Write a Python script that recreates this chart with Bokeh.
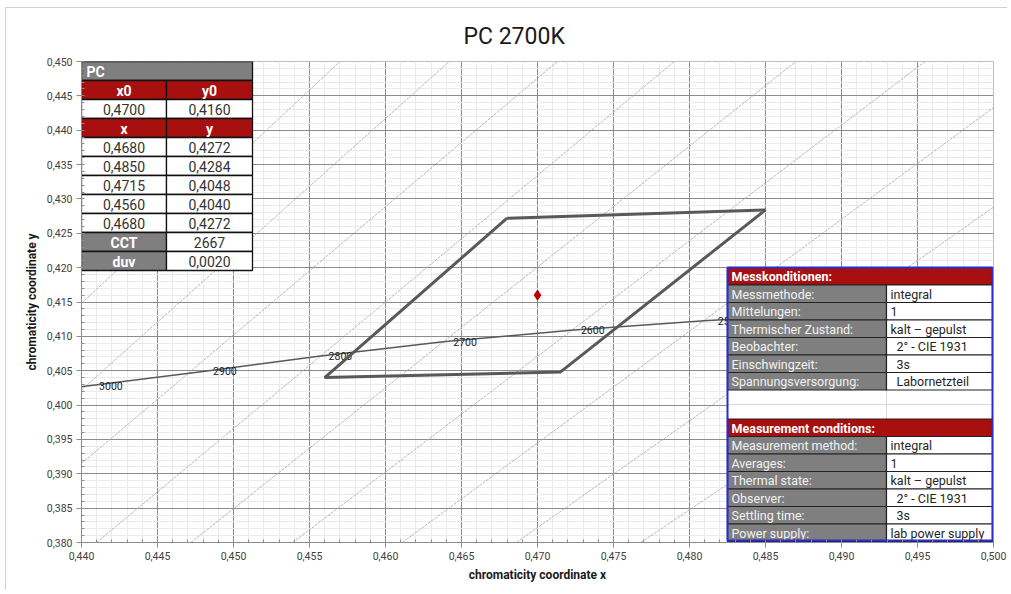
from bokeh.plotting import figure
from bokeh.models import Range1d, SingleIntervalTicker, CustomJSTickFormatter
from bokeh.core.properties import value
from bokeh.embed import file_html
from bokeh.resources import INLINE

# ---------------- data ----------------
title_text = "PC 2700K"
x_label = "chromaticity coordinate x"
y_label = "chromaticity coordinate y"

pc_name = "PC"
pc_x0 = 0.4700
pc_y0 = 0.4160
corner_x = [0.4680, 0.4850, 0.4715, 0.4560, 0.4680]
corner_y = [0.4272, 0.4284, 0.4048, 0.4040, 0.4272]
pc_cct = 2667
pc_duv = 0.0020

# Planckian locus
locus_cct = [3100, 3000, 2900, 2800, 2700, 2600, 2500, 2400]
locus_x = [0.4327, 0.4405, 0.4480, 0.4556, 0.4638, 0.4722, 0.4812, 0.4899]
locus_y = [0.4006, 0.4028, 0.4049, 0.4071, 0.4092, 0.4109, 0.4123, 0.4133]

# isotemperature lines (end points)
iso_cct = [3100, 3000, 2900, 2800, 2700, 2600, 2500, 2400, 2300, 2200]
iso_x1 = [0.4400, 0.4400, 0.4400, 0.4410, 0.4472, 0.4539, 0.4611, 0.4686, 0.4768, 0.4855]
iso_y1 = [0.4148, 0.4022, 0.3915, 0.3800, 0.3800, 0.3800, 0.3800, 0.3800, 0.3800, 0.3800]
iso_x2 = [0.4570, 0.4642, 0.4713, 0.4790, 0.4870, 0.4955, 0.5000, 0.5000, 0.5000, 0.5000]
iso_y2 = [0.4500, 0.4500, 0.4500, 0.4500, 0.4500, 0.4500, 0.4433, 0.4288, 0.4145, 0.4006]

de_title = "Messkonditionen:"
de_labels = ["Messmethode:", "Mittelungen:", "Thermischer Zustand:", "Beobachter:",
             "Einschwingzeit:", "Spannungsversorgung:"]
de_values = ["integral", "1", "kalt \u2013 gepulst", "2\u00b0 - CIE 1931", "3s", "Labornetzteil"]
de_indent = [0, 0, 0, 1, 1, 1]

en_title = "Measurement conditions:"
en_labels = ["Measurement method:", "Averages:", "Thermal state:", "Observer:",
             "Settling time:", "Power supply:"]
en_values = ["integral", "1", "kalt \u2013 gepulst", "2\u00b0 - CIE 1931", "3s", "lab power supply"]
en_indent = [0, 0, 0, 1, 1, 0]

# ---------------- layout geometry (page pixels) ----------------
FL, FR, FT, FB = 81, 993, 61, 542
X0, X1, Y0, Y1 = 0.44, 0.50, 0.38, 0.45
ML, MT = 5, 7          # css margin of the chart box
CL, CT = ML + 1, MT + 1  # content origin (after 1px border)
W, H = 1002, 583


def X(px):
    return X0 + (px - FL) * (X1 - X0) / (FR - FL)


def Y(py):
    return Y1 - (py - FT) * (Y1 - Y0) / (FB - FT)


def fmt(v, n=4):
    return f"{v:.{n}f}".replace(".", ",")


FONT = value("Roboto")
RED = "#a80f0f"
GRAY = "#7f7f7f"

p = figure(width=W, height=H, output_backend="svg", toolbar_location=None,
           x_range=Range1d(X0, X1), y_range=Range1d(Y0, Y1),
           min_border_left=FL - CL, min_border_right=(CL + W) - FR,
           min_border_top=FT - CT, min_border_bottom=(CT + H) - FB,
           background_fill_color="white", border_fill_color="white")
p.styles = {"margin-left": f"{ML}px", "margin-top": f"{MT}px",
            "border-left": "1px solid #d0d0d0", "border-top": "1px solid #d0d0d0"}

p.title.text = title_text
p.title.align = "left"
p.title.offset = 382
p.title.text_font = "Roboto"
p.title.text_font_size = "23px"
p.title.text_font_style = "normal"
p.title.text_color = "#1a1a1a"
p.title.standoff = 24

p.outline_line_color = "#bdbdbd"

for ax in (p.xaxis[0], p.yaxis[0]):
    ax.ticker = SingleIntervalTicker(interval=0.005, num_minor_ticks=5)
    ax.formatter = CustomJSTickFormatter(code="return tick.toFixed(3).replace('.', ',');")
    ax.axis_line_color = "#8c8c8c"
    ax.major_tick_line_color = "#8c8c8c"
    ax.minor_tick_line_color = "#8c8c8c"
    ax.major_tick_out = 5
    ax.major_tick_in = 0
    ax.minor_tick_in = 3
    ax.minor_tick_out = 0
    ax.major_label_text_font = "Roboto"
    ax.major_label_text_font_size = "10.5px"
    ax.major_label_text_color = "#404040"
    ax.major_label_standoff = 4
    ax.axis_label_text_font = "Roboto"
    ax.axis_label_text_font_size = "12px"
    ax.axis_label_text_font_style = "bold"
    ax.axis_label_text_color = "#1a1a1a"
    ax.axis_label_standoff = 5

p.xaxis.axis_label = x_label
p.yaxis.axis_label = y_label

for g in (p.xgrid[0], p.ygrid[0]):
    g.grid_line_color = "#8c8c8c"
    g.grid_line_width = 1
    g.minor_grid_line_color = "#ebebeb"
    g.minor_grid_line_width = 1

# isotherms
p.segment(x0=iso_x1, y0=iso_y1, x1=iso_x2, y1=iso_y2, line_color="#a6a6a6",
          line_width=0.8, line_dash="3 1")

# locus
p.line(locus_x, locus_y, line_color="#595959", line_width=1.5)
lab_x = [x for x, c in zip(locus_x, locus_cct) if X0 < x < X1]
lab_y = [y for x, y in zip(locus_x, locus_y) if X0 < x < X1]
lab_t = [str(c) for x, c in zip(locus_x, locus_cct) if X0 < x < X1]
p.text(lab_x, lab_y, text=lab_t, x_offset=10, text_baseline="middle",
       text_align="left", text_font=FONT, text_font_size="10.5px", text_color="#1a1a1a")

# tolerance quadrangle and centre point
p.line(corner_x, corner_y, line_color="#595959", line_width=3)
p.scatter([pc_x0], [pc_y0], marker="diamond", size=10, color="#c00000")

# ---------------- left table ----------------
LL, LM, LR = 81, 166, 252
RH = 19
rows = []
rows.append([(LL, LR, GRAY, pc_name, "hdr_left")])
rows.append([(LL, LM, RED, "x0", "hdr"), (LM, LR, RED, "y0", "hdr")])
rows.append([(LL, LM, "white", fmt(pc_x0), "val"), (LM, LR, "white", fmt(pc_y0), "val")])
rows.append([(LL, LM, RED, "x", "hdr"), (LM, LR, RED, "y", "hdr")])
for cx, cy in zip(corner_x, corner_y):
    rows.append([(LL, LM, "white", fmt(cx), "val"), (LM, LR, "white", fmt(cy), "val")])
rows.append([(LL, LM, GRAY, "CCT", "hdr"), (LM, LR, "white", str(pc_cct), "val")])
rows.append([(LL, LM, GRAY, "duv", "hdr"), (LM, LR, "white", fmt(pc_duv), "val")])

ql, qr, qt, qb, qc = [], [], [], [], []
texts = {"hdr": ([], [], []), "hdr_left": ([], [], []), "val": ([], [], [])}
for i, row in enumerate(rows):
    top = FT + i * RH
    for (a, b, col, t, kind) in row:
        ql.append(X(a)); qr.append(X(b)); qt.append(Y(top)); qb.append(Y(top + RH)); qc.append(col)
        if kind == "hdr_left":
            texts[kind][0].append(X(a + 5))
        else:
            texts[kind][0].append(X((a + b) / 2))
        texts[kind][1].append(Y(top + RH / 2 + 0.5))
        texts[kind][2].append(t)
p.quad(left=ql, right=qr, top=qt, bottom=qb, fill_color=qc, line_color="#111111", line_width=1.3)
p.text(texts["hdr"][0], texts["hdr"][1], text=texts["hdr"][2], text_align="center",
       text_baseline="middle", text_font=FONT, text_font_size="14px", text_font_style="bold",
       text_color="white")
p.text(texts["hdr_left"][0], texts["hdr_left"][1], text=texts["hdr_left"][2], text_align="left",
       text_baseline="middle", text_font=FONT, text_font_size="14px", text_font_style="bold",
       text_color="white")
p.text(texts["val"][0], texts["val"][1], text=texts["val"][2], text_align="center",
       text_baseline="middle", text_font=FONT, text_font_size="14px", text_color="#333333")

# ---------------- right tables ----------------
RL, RM, RR = 727, 886, 992
RT, RB = 267, 540
CH = 17.5
p.quad(left=[X(RL)], right=[X(RR)], top=[Y(RT)], bottom=[Y(RB)], fill_color="white",
       line_color=None)
p.segment(x0=[X(RL), X(RM)], y0=[Y(404), Y(389.5)], x1=[X(RR), X(RM)], y1=[Y(404), Y(418.5)],
          line_color="#d9d9d9", line_width=1)


def cond_table(top, title, labels, values, indent):
    ql, qr, qt, qb, qc = [], [], [], [], []
    ql.append(X(RL)); qr.append(X(RR)); qt.append(Y(top)); qb.append(Y(top + CH)); qc.append(RED)
    lx, ly, vx, vy = [], [], [], []
    for i, (lab, val, ind) in enumerate(zip(labels, values, indent)):
        t = top + CH * (i + 1)
        ql += [X(RL), X(RM)]; qr += [X(RM), X(RR)]
        qt += [Y(t), Y(t)]; qb += [Y(t + CH), Y(t + CH)]
        qc += [GRAY, "white"]
        lx.append(X(RL + 4)); ly.append(Y(t + CH / 2 + 0.5))
        vx.append(X(RM + 4 + 6 * ind)); vy.append(Y(t + CH / 2 + 0.5))
    p.quad(left=ql, right=qr, top=qt, bottom=qb, fill_color=qc, line_color="#222222",
           line_width=1.2)
    p.text([X(RL + 4)], [Y(top + CH / 2 + 0.5)], text=[title], text_align="left",
           text_baseline="middle", text_font=FONT, text_font_size="12.5px",
           text_font_style="bold", text_color="white")
    p.text(lx, ly, text=labels, text_align="left", text_baseline="middle", text_font=FONT,
           text_font_size="12.5px", text_color="#f2f2f2")
    p.text(vx, vy, text=values, text_align="left", text_baseline="middle", text_font=FONT,
           text_font_size="12.5px", text_color="#262626")


cond_table(RT, de_title, de_labels, de_values, de_indent)
cond_table(418.5, en_title, en_labels, en_values, en_indent)
p.quad(left=[X(RL)], right=[X(RR)], top=[Y(RT)], bottom=[Y(RB)], fill_color=None,
       line_color="#2b2bd0", line_width=2)

open("out.html", "w").write(file_html(p, INLINE))
